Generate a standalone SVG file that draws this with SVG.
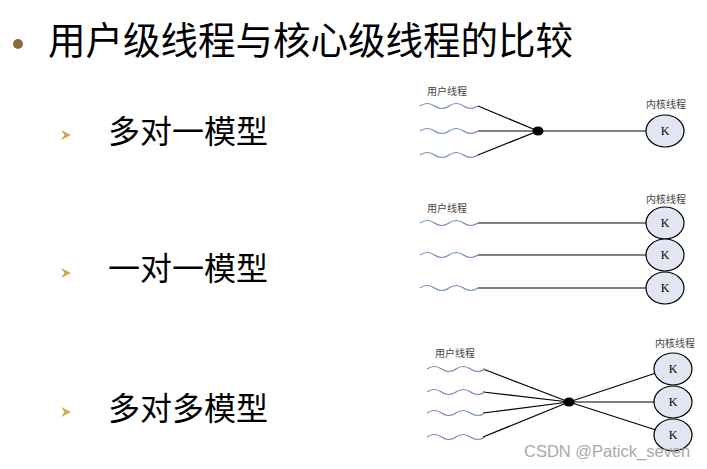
<svg xmlns="http://www.w3.org/2000/svg" width="707" height="469" viewBox="0 0 707 469">
<style>
.title{font-family:"Noto Sans CJK SC","Noto Sans",sans-serif;font-size:37.5px;fill:#000}
.item{font-family:"Noto Sans CJK SC","Noto Sans",sans-serif;font-size:32px;fill:#000}
.lbl{font-family:"Noto Sans CJK SC",sans-serif;font-size:10px;fill:#444}
.k{font-family:"Liberation Serif",serif;font-size:12px;fill:#000;text-anchor:middle}
.wave{fill:none;stroke:#6f8bb5;stroke-width:1.2}
.ln{stroke:#000;stroke-width:1.2;fill:none}
.kc{fill:#e1e6f2;stroke:#000;stroke-width:1.2}
.arr{fill:#c9a94e}
.wm{font-family:"Liberation Sans",sans-serif;font-size:16.5px;fill:#a8a8a8}
</style>
<defs>
<path id="w" d="M0,0 q7.25,-5 14.5,0 t14.5,0 t14.5,0 t14.5,0"/>
<polygon id="ar" points="0,-5 10,0 0,5 3.5,0"/>
</defs>
<rect width="707" height="469" fill="#fff"/>
<g id="title">
<circle cx="18" cy="44" r="5" fill="#8c6c3e"/>
<text class="title" x="48" y="54">用户级线程与核心级线程的比较</text>
</g>
<g id="items">
<use href="#ar" x="61" y="135" class="arr"/>
<text class="item" x="108" y="143">多对一模型</text>
<use href="#ar" x="61" y="273" class="arr"/>
<text class="item" x="108" y="280">一对一模型</text>
<use href="#ar" x="61" y="412" class="arr"/>
<text class="item" x="108" y="420">多对多模型</text>
</g>
<g id="connectors">
<line class="ln" x1="478" y1="106" x2="538" y2="131"/>
<line class="ln" x1="478" y1="131" x2="646" y2="131"/>
<line class="ln" x1="478" y1="155" x2="538" y2="131"/>
<line class="ln" x1="478" y1="223" x2="646" y2="223"/>
<line class="ln" x1="478" y1="255" x2="646" y2="255"/>
<line class="ln" x1="478" y1="288" x2="646" y2="288"/>
<line class="ln" x1="483" y1="369" x2="569" y2="402"/>
<line class="ln" x1="483" y1="392" x2="569" y2="402"/>
<line class="ln" x1="483" y1="413" x2="569" y2="402"/>
<line class="ln" x1="483" y1="437" x2="569" y2="402"/>
<line class="ln" x1="569" y1="402" x2="656" y2="373"/>
<line class="ln" x1="569" y1="402" x2="654" y2="402"/>
<line class="ln" x1="569" y1="402" x2="656" y2="430"/>
</g>
<g id="m2o">
<text class="lbl" x="427" y="95">用户线程</text>
<use href="#w" x="420" y="106" class="wave"/>
<use href="#w" x="420" y="131" class="wave"/>
<use href="#w" x="420" y="155" class="wave"/>
<ellipse cx="538" cy="131" rx="5.5" ry="4.5" fill="#000"/>
<text class="lbl" x="646" y="108">内核线程</text>
<ellipse class="kc" cx="665" cy="131" rx="19" ry="16"/>
<text class="k" x="665" y="135">K</text>
</g>
<g id="o2o">
<text class="lbl" x="427" y="212">用户线程</text>
<text class="lbl" x="646" y="203">内核线程</text>
<use href="#w" x="420" y="223" class="wave"/>
<use href="#w" x="420" y="255" class="wave"/>
<use href="#w" x="420" y="288" class="wave"/>
<ellipse class="kc" cx="665" cy="223" rx="19" ry="16"/>
<text class="k" x="665" y="227">K</text>
<ellipse class="kc" cx="665" cy="255" rx="19" ry="16"/>
<text class="k" x="665" y="259">K</text>
<ellipse class="kc" cx="665" cy="288" rx="19" ry="16"/>
<text class="k" x="665" y="292">K</text>
</g>
<g id="m2m">
<text class="lbl" x="435" y="357">用户线程</text>
<text class="lbl" x="655" y="347">内核线程</text>
<use href="#w" x="427" y="369" class="wave"/>
<use href="#w" x="427" y="392" class="wave"/>
<use href="#w" x="427" y="413" class="wave"/>
<use href="#w" x="427" y="437" class="wave"/>
<ellipse cx="569" cy="402" rx="5.5" ry="4.5" fill="#000"/>
<ellipse class="kc" cx="673" cy="369" rx="19" ry="16"/>
<text class="k" x="673" y="373">K</text>
<ellipse class="kc" cx="673" cy="402" rx="19" ry="16"/>
<text class="k" x="673" y="406">K</text>
<ellipse class="kc" cx="673" cy="435" rx="19" ry="16"/>
<text class="k" x="673" y="439">K</text>
</g>
<text class="wm" x="524" y="457">CSDN @Patick_seven</text>
</svg>
